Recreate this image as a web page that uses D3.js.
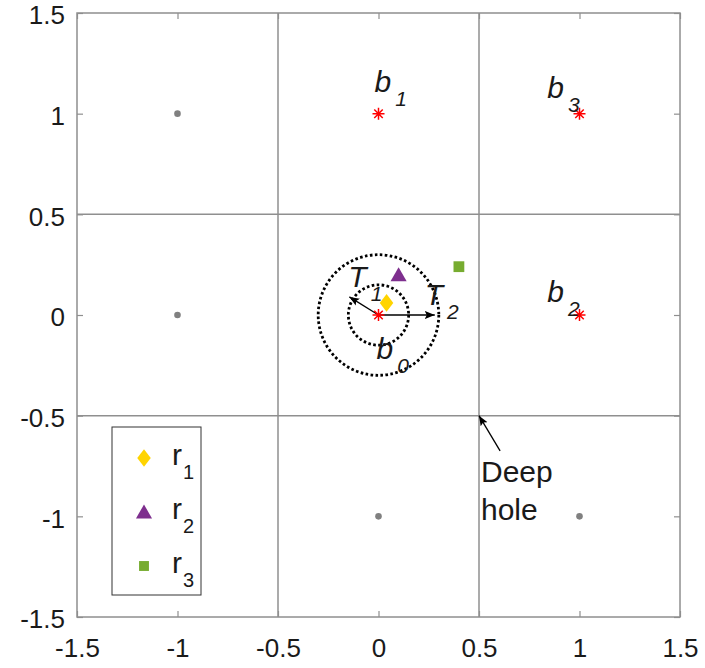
<!DOCTYPE html>
<html>
<head>
<meta charset="utf-8">
<script src="https://cdn.jsdelivr.net/npm/d3@7"></script>
<style>
  body { margin: 0; background: #fff; }
  text { font-family: "Liberation Sans", Arial, sans-serif; fill: #1a1a1a; }
</style>
</head>
<body>
<svg id="chart"></svg>
<script>
// data
const ticks = [-1.5, -1, -0.5, 0, 0.5, 1, 1.5];
const cellEdges = [-0.5, 0.5];
const latticePts = [[-1, 1], [-1, 0], [0, -1], [1, -1]];
const basePts = [[0, 1], [1, 1], [1, 0], [0, 0]];
const baseNames = ["b", "b", "b", "b"];
const baseSubs = ["1", "3", "2", "0"];
const baseLabelAt = [[-0.02, 1.11], [0.84, 1.08], [0.84, 0.065], [-0.01, -0.22]];
const radii = [0.15, 0.3];
const radiusNames = ["T", "T"];
const radiusSubs = ["1", "2"];
const radiusTips = [[-0.145, 0.09], [0.28, 0]];
const radiusLabelAt = [[-0.15, 0.139], [0.23, 0.05]];
const recvNames = ["r", "r", "r"];
const recvSubs = ["1", "2", "3"];
const recvPts = [[0.04, 0.06], [0.1, 0.2], [0.4, 0.24]];
const recvColors = ["#FFD400", "#7E2F8E", "#77AC30"];
const holePt = [0.5, -0.5];
const holeTail = [0.605, -0.675];
const holeText = ["Deep", "hole"];

const width = 705, height = 668;
const x = d3.scaleLinear().domain([-1.5, 1.5]).range([77, 680]);
const y = d3.scaleLinear().domain([-1.5, 1.5]).range([617, 13]);

// marker shapes: diamond (tall), triangle, square
const shapes = [
  s => `M0,${-s * 0.68}L${s * 0.52},0L0,${s * 0.68}L${-s * 0.52},0Z`,
  s => `M0,${-s * 0.58}L${s * 0.62},${s * 0.5}L${-s * 0.62},${s * 0.5}Z`,
  s => `M${-s * 0.45},${-s * 0.45}H${s * 0.45}V${s * 0.45}H${-s * 0.45}Z`
];

const svg = d3.select("#chart").attr("width", width).attr("height", height);

svg.append("defs").append("marker")
    .attr("id", "head")
    .attr("viewBox", "0 0 10 10")
    .attr("refX", 10).attr("refY", 5)
    .attr("markerWidth", 10).attr("markerHeight", 10)
    .attr("markerUnits", "userSpaceOnUse")
    .attr("orient", "auto")
  .append("path")
    .attr("d", "M0,1 L10,5 L0,9 L2,5 Z")
    .attr("fill", "#000");

// grid lines on cell boundaries
const grid = svg.append("g").attr("stroke", "#8f8f8f").attr("stroke-width", 1.5);
grid.selectAll(".v").data(cellEdges).enter().append("line")
    .attr("x1", d => x(d)).attr("x2", d => x(d))
    .attr("y1", y(-1.5)).attr("y2", y(1.5));
grid.selectAll(".h").data(cellEdges).enter().append("line")
    .attr("y1", d => y(d)).attr("y2", d => y(d))
    .attr("x1", x(-1.5)).attr("x2", x(1.5));

// axes
const fmt = d => String(d);
const xAx = svg.append("g").attr("transform", `translate(0,${y(-1.5)})`)
    .call(d3.axisBottom(x).tickValues(ticks).tickFormat(fmt).tickSize(-6).tickPadding(22));
const yAx = svg.append("g").attr("transform", `translate(${x(-1.5)},0)`)
    .call(d3.axisLeft(y).tickValues(ticks).tickFormat(fmt).tickSize(-6).tickPadding(12));
svg.append("g").attr("transform", `translate(0,${y(1.5)})`)
    .call(d3.axisTop(x).tickValues(ticks).tickFormat("").tickSize(-6));
svg.append("g").attr("transform", `translate(${x(1.5)},0)`)
    .call(d3.axisRight(y).tickValues(ticks).tickFormat("").tickSize(-6));
svg.selectAll(".domain").remove();
svg.selectAll(".tick line").attr("stroke", "#8f8f8f").attr("stroke-width", 1.2);
svg.selectAll(".tick text").style("font-size", "26px").attr("fill", "#1a1a1a");
yAx.selectAll(".tick text").attr("dy", "0.42em");

svg.append("rect")
    .attr("x", x(-1.5)).attr("y", y(1.5))
    .attr("width", x(1.5) - x(-1.5)).attr("height", y(-1.5) - y(1.5))
    .attr("fill", "none").attr("stroke", "#8f8f8f").attr("stroke-width", 1.5);

// lattice points
svg.selectAll(".lat").data(latticePts).enter().append("circle")
    .attr("cx", d => x(d[0])).attr("cy", d => y(d[1])).attr("r", 3.3)
    .attr("fill", "#808080");

// dotted radius circles
svg.selectAll(".ring").data(radii).enter().append("circle")
    .attr("cx", x(0)).attr("cy", y(0))
    .attr("r", d => x(d) - x(0))
    .attr("fill", "none").attr("stroke", "#000")
    .attr("stroke-width", 2.8).attr("stroke-dasharray", "2.6,2.4");

// radius arrows
svg.selectAll(".rad").data(radiusTips).enter().append("line")
    .attr("x1", x(0)).attr("y1", y(0))
    .attr("x2", d => x(d[0])).attr("y2", d => y(d[1]))
    .attr("stroke", "#000").attr("stroke-width", 1.3)
    .attr("marker-end", "url(#head)");

// base points (asterisks)
const star = (s) => {
  const r = s / 2, q = r * Math.SQRT1_2;
  return `M${-r},0L${r},0M0,${-r}L0,${r}M${-q},${-q}L${q},${q}M${-q},${q}L${q},${-q}`;
};
svg.selectAll(".base").data(basePts).enter().append("path")
    .attr("transform", d => `translate(${x(d[0])},${y(d[1])})`)
    .attr("d", star(12))
    .attr("stroke", "#ff0000").attr("stroke-width", 1.5).attr("fill", "none");

// labels with subscripts
function subLabel(g, px, py, name, sub, italic) {
  const t = g.append("text").attr("x", px).attr("y", py)
      .style("font-size", "30px")
      .style("font-style", italic ? "italic" : "normal");
  t.append("tspan").text(name);
  t.append("tspan").attr("dx", italic ? 4 : 1).attr("dy", 14)
      .style("font-size", italic ? "21px" : "20px").text(sub);
}
const lbl = svg.append("g");
basePts.forEach((d, i) => subLabel(lbl, x(baseLabelAt[i][0]), y(baseLabelAt[i][1]), baseNames[i], baseSubs[i], true));
radii.forEach((d, i) => subLabel(lbl, x(radiusLabelAt[i][0]), y(radiusLabelAt[i][1]), radiusNames[i], radiusSubs[i], true));

// received points
svg.selectAll(".recv").data(recvPts).enter().append("path")
    .attr("transform", d => `translate(${x(d[0])},${y(d[1])})`)
    .attr("d", (d, i) => shapes[i](i === 2 ? 12 : 13))
    .attr("fill", (d, i) => recvColors[i]);

// deep hole annotation
svg.append("line")
    .attr("x1", x(holeTail[0])).attr("y1", y(holeTail[1]))
    .attr("x2", x(holePt[0])).attr("y2", y(holePt[1]))
    .attr("stroke", "#000").attr("stroke-width", 1.3)
    .attr("marker-end", "url(#head)");
svg.selectAll(".hole").data(holeText).enter().append("text")
    .attr("x", x(holePt[0]) + 2)
    .attr("y", (d, i) => y(holeTail[1]) + 31 + i * 38)
    .style("font-size", "30px")
    .text(d => d);

// legend
const leg = svg.append("g");
leg.append("rect")
    .attr("x", 112).attr("y", 427).attr("width", 89).attr("height", 168)
    .attr("fill", "#fff").attr("stroke", "#333").attr("stroke-width", 1);
recvNames.forEach((n, i) => {
  const cy = 458 + i * 54;
  leg.append("path")
      .attr("transform", `translate(144,${cy})`)
      .attr("d", shapes[i](i === 2 ? 11 : 13))
      .attr("fill", recvColors[i]);
  subLabel(leg, 172, cy + 7, n, recvSubs[i], false);
});
</script>
</body>
</html>
